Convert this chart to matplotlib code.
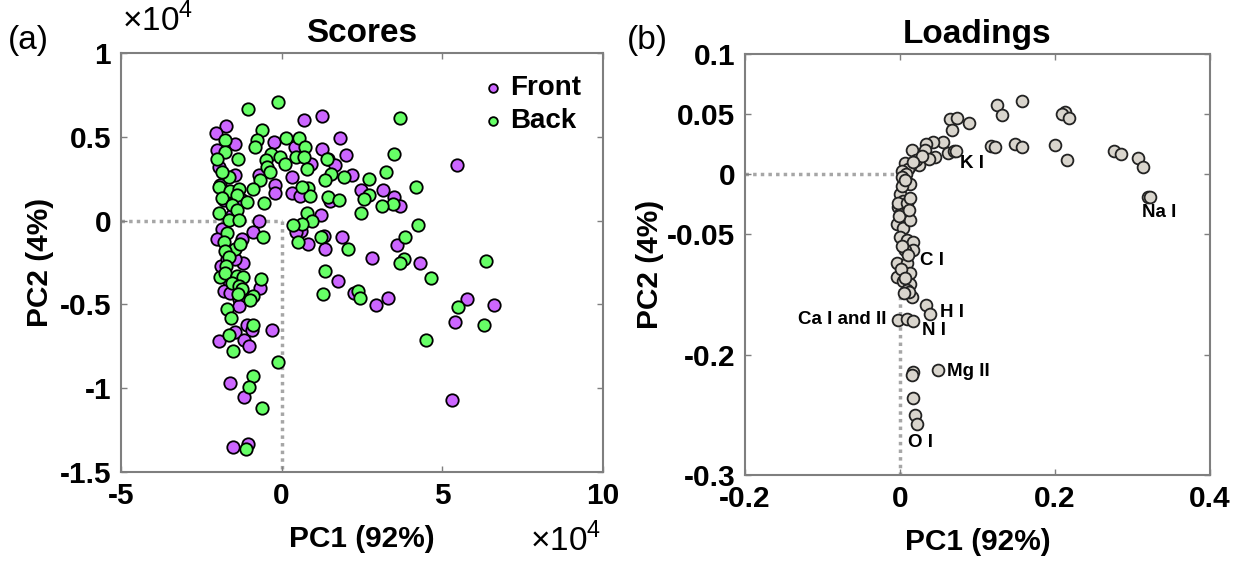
import matplotlib
matplotlib.use("Agg")
import matplotlib.pyplot as plt

plt.rcParams['font.family'] = ['Liberation Sans', 'DejaVu Sans']
plt.rcParams['axes.unicode_minus'] = False
plt.rcParams['mathtext.fontset'] = 'custom'
plt.rcParams['mathtext.rm'] = 'Liberation Sans'

# ---- scores (both axes in units of 1e4) ----
front_pc1 = [0.70, 1.27, -1.72, -2.03, 1.83, 1.27, 1.99, -1.45, -0.23, 0.41,
             0.93, 1.45, 1.65, 2.20, 0.31, -1.45, -1.96, -0.70, -0.21, -0.21,
             0.31, 0.57, 1.50, 1.24, -0.70, -0.88, 0.60, 0.46, 0.83, 1.34,
             1.88, -1.24, 1.32, -1.86, 1.76, 2.25, -1.88, -1.19, -1.45, -1.65,
             -1.80, -1.60, -0.67, -1.34, -1.34, -1.08, -0.93, -0.31, -1.46, -1.96,
             -1.17, -1.01, -1.60, -1.17, -1.52, -1.06, 5.47, 2.48, 3.15, 3.51,
             3.68, 3.59, 4.31, 2.82, 2.94, 3.32, 5.78, 6.60, 5.40, 5.29,
             -2.01, -1.92, -1.80, -1.55, -1.24, -1.70, -2.01]
front_pc2 = [0.60, 0.625, 0.565, 0.52, 0.49, 0.43, 0.39, 0.46, 0.47, 0.44,
             0.34, 0.37, 0.33, 0.27, 0.26, 0.27, 0.32, 0.27, 0.21, 0.165,
             0.165, 0.145, 0.12, 0.035, 0.0, -0.07, -0.06, -0.07, -0.14, -0.17,
             -0.10, -0.11, -0.09, -0.05, -0.36, -0.43, -0.27, -0.25, -0.23, -0.36,
             -0.42, -0.43, -0.40, -0.47, -0.51, -0.625, -0.65, -0.65, -0.665, -0.72,
             -0.71, -0.75, -0.97, -1.05, -1.35, -1.33, 0.33, 0.18, 0.185, 0.14,
             0.09, -0.145, -0.255, -0.225, -0.505, -0.46, -0.47, -0.505, -0.605, -1.07,
             0.42, 0.21, 0.125, 0.035, 0.125, -0.23, -0.11]

back_pc1 = [-0.10, -1.06, -0.62, -0.77, -0.83, 0.15, 0.54, -1.77, -1.76, -2.01,
            -1.36, 0.72, 0.44, 0.70, -0.33, -0.05, 0.10, -0.50, -0.44, -0.36,
            1.41, 1.55, 1.34, 1.93, 0.80, -1.65, -1.86, -0.67, -0.90, -1.96,
            -1.60, -1.34, -1.39, -1.84, -1.08, -0.54, 0.83, 0.88, 0.62, 1.45,
            1.80, 0.80, 0.96, 0.62, 0.36, 2.48, -1.55, -1.39, -1.94, -1.65,
            -1.34, -0.57, 0.52, 1.24, 2.06, -1.70, -1.80, -1.45, -1.29, 1.36,
            1.29, 2.39, -1.76, -1.65, -1.73, -1.91, -1.77, -1.39, -1.19, -1.55,
            -0.64, -1.34, -1.24, -0.88, -0.98, -1.36, -1.70, -1.57, -0.88, -1.63,
            -1.52, -0.10, -0.88, -1.00, -0.62, -1.11, 3.69, 3.49, 3.25, 4.18,
            2.73, 2.73, 2.56, 3.46, 3.12, 4.25, 3.84, 3.82, 3.69, 4.64,
            6.37, 2.45, 5.49, 6.29, 4.49]
back_pc2 = [0.71, 0.665, 0.54, 0.48, 0.44, 0.49, 0.49, 0.48, 0.41, 0.37,
            0.37, 0.44, 0.38, 0.38, 0.40, 0.38, 0.34, 0.36, 0.32, 0.29,
            0.37, 0.28, 0.24, 0.26, 0.31, 0.26, 0.29, 0.24, 0.19, 0.20,
            0.175, 0.19, 0.155, 0.135, 0.11, 0.105, 0.195, 0.145, 0.20, 0.14,
            0.125, 0.045, -0.005, -0.02, -0.025, 0.045, 0.095, 0.065, 0.045, 0.005,
            0.005, -0.095, -0.13, -0.10, -0.17, -0.075, -0.13, -0.17, -0.14, -0.30,
            -0.44, -0.42, -0.18, -0.215, -0.27, -0.335, -0.315, -0.33, -0.335, -0.37,
            -0.35, -0.39, -0.41, -0.45, -0.475, -0.435, -0.525, -0.58, -0.625, -0.68,
            -0.78, -0.845, -0.93, -0.99, -1.12, -1.36, 0.615, 0.40, 0.29, 0.20,
            0.25, 0.155, 0.13, 0.10, 0.09, -0.025, -0.095, -0.23, -0.255, -0.345,
            -0.24, -0.46, -0.515, -0.62, -0.715]

# ---- loadings (PC2 given on the plotted scale; axis is relabelled below -0.05) ----
load_pc1 = [0.158, 0.125, 0.131, 0.213, 0.209, 0.218, 0.065, 0.074, 0.089, 0.067,
            0.117, 0.123, 0.148, 0.158, 0.200, 0.215, 0.276, 0.285, 0.307, 0.313,
            0.320, 0.323, 0.056, 0.062, 0.069, 0.072, 0.042, 0.034, 0.032, 0.045,
            0.037, 0.015, 0.024, 0.013, 0.006, 0.020, 0.028, 0.010, 0.017, 0.003,
            0.008, 0.002, 0.013, 0.000, 0.004, -0.002, 0.000, 0.006, -0.004, 0.004,
            0.013, 0.000, 0.009, 0.017, 0.017, 0.006, -0.004, 0.009, -0.004, 0.013,
            0.004, 0.013, 0.009, 0.015, -0.002, 0.009, -0.001, 0.013, 0.002, 0.007,
            0.011, 0.003, 0.010, 0.001, 0.007, 0.011, 0.005, 0.034, 0.039, -0.002,
            0.009, 0.017, 0.017, 0.015, 0.049, 0.017, 0.019, 0.022]
load_pc2 = [0.061, 0.058, 0.049, 0.052, 0.050, 0.047, 0.046, 0.047, 0.043, 0.037,
            0.0235, 0.023, 0.0255, 0.023, 0.024, 0.012, 0.019, 0.017, 0.0135, 0.006,
            -0.019, -0.019, 0.027, 0.018, 0.019, 0.019, 0.027, 0.0255, 0.0205, 0.014,
            0.0125, 0.020, 0.0075, 0.0065, 0.009, 0.012, 0.015, 0.004, 0.010, 0.003,
            0.000, -0.002, -0.008, -0.016, -0.022, -0.027, -0.033, -0.035, -0.041, -0.045,
            -0.038, -0.052, -0.055, -0.056, -0.063, -0.063, -0.074, -0.074, -0.085, -0.082,
            -0.089, -0.091, -0.096, -0.102, -0.024, -0.024, -0.035, -0.020, -0.010, -0.005,
            -0.030, -0.060, -0.067, -0.079, -0.086, -0.098, -0.099, -0.109, -0.116, -0.121,
            -0.120, -0.122, -0.164, -0.167, -0.163, -0.186, -0.200, -0.208]

peak_names = ['K I', 'Na I', 'C I', 'H I', 'N I', 'Mg II', 'O I', 'Ca I and II']
peak_x = [0.077, 0.312, 0.026, 0.052, 0.028, 0.061, 0.010, -0.017]
peak_y = [0.0087, -0.032, -0.072, -0.115, -0.130, -0.164, -0.223, -0.121]
peak_ha = ['left'] * 7 + ['right']

load_yticks = [0.1, 0.05, 0, -0.05, -0.15, -0.25]
load_ylabels = ['0.1', '0.05', '0', '-0.05', '-0.2', '-0.3']

purple = '#CC66FF'
green = '#66FF66'
grey_fill = '#D9D5CD'
spine_col = '#7F7F7F'
dot_col = '#A6A6A6'

fig = plt.figure(figsize=(12.38, 5.61), dpi=100)
ax1 = fig.add_axes([0.0977, 0.1586, 0.3893, 0.7469])
ax2 = fig.add_axes([0.6018, 0.1533, 0.3756, 0.7504])


def style(ax):
    for s in ax.spines.values():
        s.set_color(spine_col)
        s.set_linewidth(1.5)
    ax.tick_params(direction='in', length=4, width=1, color=spine_col,
                   top=True, right=True, labelsize=21.5, pad=7)
    for lab in ax.get_xticklabels() + ax.get_yticklabels():
        lab.set_fontweight('bold')


# scores
ax1.plot([-5, 0], [0, 0], color=dot_col, lw=2.5, ls=(0, (1, 1.2)), zorder=1)
ax1.plot([0, 0], [0, -1.5], color=dot_col, lw=2.5, ls=(0, (1, 1.2)), zorder=1)
ax1.scatter(front_pc1, front_pc2, s=80, c=purple, edgecolors='black',
            linewidths=1.3, zorder=2, label='Front')
ax1.scatter(back_pc1, back_pc2, s=80, c=green, edgecolors='black',
            linewidths=1.3, zorder=3, label='Back')
ax1.set_xlim(-5, 10)
ax1.set_ylim(-1.5, 1)
ax1.set_xticks([-5, 0, 5, 10])
ax1.set_xticklabels(['-5', '0', '5', '10'])
ax1.set_yticks([-1.5, -1, -0.5, 0, 0.5, 1])
ax1.set_yticklabels(['-1.5', '-1', '-0.5', '0', '0.5', '1'])
style(ax1)
ax1.set_title('Scores', fontsize=24, fontweight='bold', pad=8)
ax1.set_xlabel('PC1 (92%)', fontsize=21.5, fontweight='bold', labelpad=11)
ax1.set_ylabel('PC2 (4%)', fontsize=21.5, fontweight='bold', labelpad=4)
ax1.legend(loc='upper right', frameon=False, handletextpad=0.1,
           borderaxespad=0.4, labelspacing=0.25, handlelength=1.0,
           markerscale=0.7, prop={'weight': 'bold', 'size': 20})

# loadings
ax2.plot([-0.2, 0], [0, 0], color=dot_col, lw=2.5, ls=(0, (1, 1.2)), zorder=1)
ax2.plot([0, 0], [0, -0.25], color=dot_col, lw=2.5, ls=(0, (1, 1.2)), zorder=1)
ax2.scatter(load_pc1, load_pc2, s=72, c=grey_fill, edgecolors='#222222',
            linewidths=1.3, zorder=2)
for name, x, y, ha in zip(peak_names, peak_x, peak_y, peak_ha):
    ax2.text(x, y, name, ha=ha, va='center', fontsize=13.5, fontweight='bold',
             zorder=4)
ax2.set_xlim(-0.2, 0.4)
ax2.set_ylim(-0.25, 0.1)
ax2.set_xticks([-0.2, 0, 0.2, 0.4])
ax2.set_xticklabels(['-0.2', '0', '0.2', '0.4'])
ax2.set_yticks(load_yticks)
ax2.set_yticklabels(load_ylabels)
style(ax2)
ax2.set_title('Loadings', fontsize=24, fontweight='bold', pad=8)
ax2.set_xlabel('PC1 (92%)', fontsize=21.5, fontweight='bold', labelpad=11)
ax2.set_ylabel('PC2 (4%)', fontsize=21.5, fontweight='bold', labelpad=2)

# panel letters and exponent labels
fig.text(8 / 1238, 1 - 40 / 561, '(a)', fontsize=24, va='center')
fig.text(627 / 1238, 1 - 40 / 561, '(b)', fontsize=24, va='center')
fig.text(122 / 1238, 1 - 31 / 561, r'$\times$10$^{4}$', fontsize=24,
         va='baseline')
fig.text(530 / 1238, 1 - 551 / 561, r'$\times$10$^{4}$', fontsize=24,
         va='baseline')

fig.savefig('out.png', dpi=100)
